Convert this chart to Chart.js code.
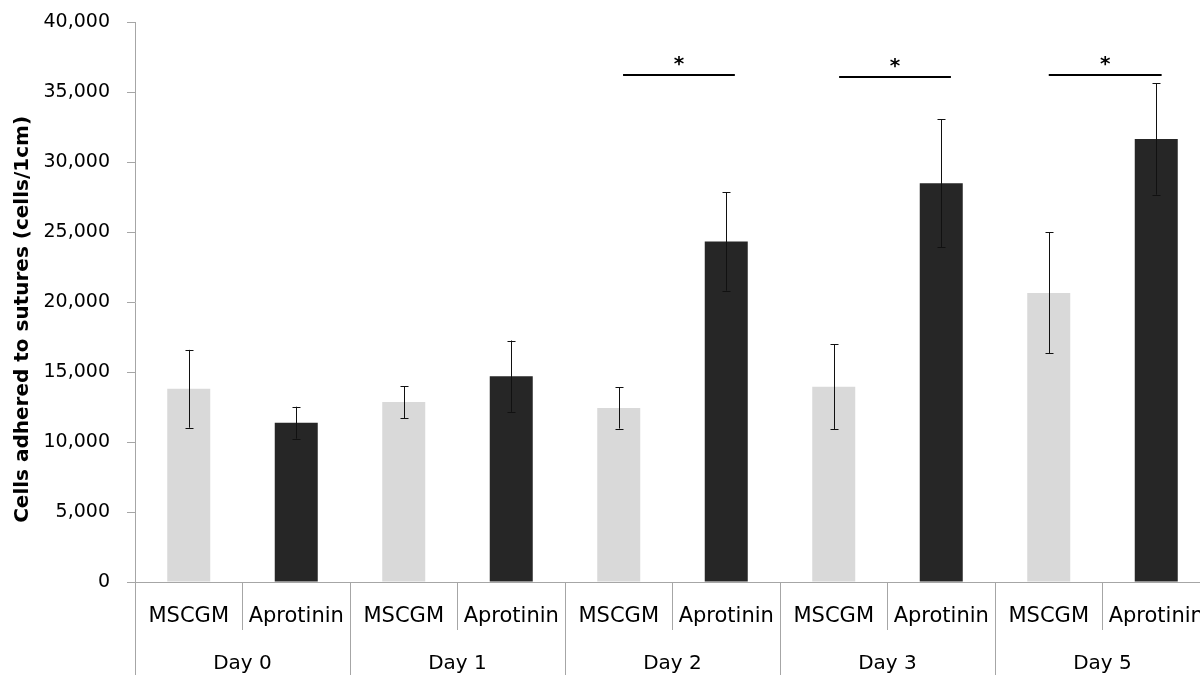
<!DOCTYPE html>
<html>
<head>
<meta charset="utf-8">
<script src="https://cdn.jsdelivr.net/npm/chart.js@4/dist/chart.umd.min.js"></script>
<style>
  html, body { margin: 0; padding: 0; background: #fff; overflow: hidden; }
  #wrap { width: 1210px; height: 675px; position: relative; }
</style>
</head>
<body>
<div id="wrap"><canvas id="c"></canvas></div>
<script>
// ---- data ----
const days = ['Day 0', 'Day 1', 'Day 2', 'Day 3', 'Day 5'];
const groups = ['MSCGM', 'Aprotinin'];
const mscgmValues = [13800, 12850, 12430, 13950, 20650];
const mscgmErrors = [2780, 1150, 1470, 3020, 4320];
const aprotininValues = [11380, 14700, 24330, 28480, 31650];
const aprotininErrors = [1140, 2550, 3520, 4570, 3980];
const yTicks = [0, 5000, 10000, 15000, 20000, 25000, 30000, 35000, 40000];
// significance bars: start/end in category units, level in cells
const sigStart = [4.04, 6.05, 8.0];
const sigEnd = [5.08, 7.09, 9.05];
const sigLevel = [36250, 36100, 36250];
const sigMark = ['*', '*', '*'];
const yTitle = 'Cells adhered to sutures (cells/1cm)';

// build interleaved category table from the arrays
const labels = [];
const values = [];
const errors = [];
const colors = [];
days.forEach((d, i) => {
  labels.push(groups[0]); values.push(mscgmValues[i]); errors.push(mscgmErrors[i]); colors.push('#d9d9d9');
  labels.push(groups[1]); values.push(aprotininValues[i]); errors.push(aprotininErrors[i]); colors.push('#262626');
});

const AXIS = '#a6a6a6';
const FONT = 'DejaVu Sans';

const overlay = {
  id: 'overlay',
  afterDatasetsDraw(chart) {
    const ctx = chart.ctx;
    const x = chart.scales.x, y = chart.scales.y;
    ctx.save();
    // error bars
    ctx.strokeStyle = '#111';
    ctx.lineWidth = 1;
    values.forEach((v, i) => {
      const px = Math.round(x.getPixelForValue(i)) + 0.5;
      const top = y.getPixelForValue(v + errors[i]);
      const bot = y.getPixelForValue(v - errors[i]);
      ctx.beginPath();
      ctx.moveTo(px, top); ctx.lineTo(px, bot);
      ctx.moveTo(px - 4, Math.round(top) + 0.5); ctx.lineTo(px + 4, Math.round(top) + 0.5);
      ctx.moveTo(px - 4, Math.round(bot) + 0.5); ctx.lineTo(px + 4, Math.round(bot) + 0.5);
      ctx.stroke();
    });
    // significance bars
    ctx.strokeStyle = '#000';
    ctx.lineWidth = 2;
    ctx.fillStyle = '#000';
    ctx.font = 'bold 20px "' + FONT + '"';
    ctx.textAlign = 'center';
    ctx.textBaseline = 'middle';
    sigStart.forEach((s, k) => {
      const x1 = x.getPixelForValue(s), x2 = x.getPixelForValue(sigEnd[k]);
      const py = Math.round(y.getPixelForValue(sigLevel[k]));
      ctx.beginPath();
      ctx.moveTo(x1, py); ctx.lineTo(x2, py);
      ctx.stroke();
      ctx.fillText(sigMark[k], (x1 + x2) / 2, py - 10);
    });
    ctx.restore();
  }
};

new Chart(document.getElementById('c'), {
  type: 'bar',
  data: {
    labels: labels,
    datasets: [{
      data: values,
      backgroundColor: colors,
      borderWidth: 0,
      barPercentage: 0.4,
      categoryPercentage: 1.0
    }]
  },
  options: {
    responsive: true,
    maintainAspectRatio: false,
    animation: false,
    events: [],
    layout: { padding: { top: 22, right: 0, bottom: 0, left: 0 } },
    plugins: { legend: { display: false }, tooltip: { enabled: false } },
    scales: {
      x: {
        type: 'category',
        position: 'bottom',
        weight: 0,
        offset: true,
        grid: { display: true, offset: true, drawOnChartArea: false, drawTicks: true, tickLength: 48, color: AXIS, lineWidth: 1 },
        border: { display: true, color: AXIS, width: 1 },
        ticks: { color: '#000', font: { family: FONT, size: 21 }, padding: -26, maxRotation: 0, autoSkip: false },
        afterFit(scale) { scale.height = 48; }
      },
      x2: {
        type: 'category',
        position: 'bottom',
        weight: 1,
        labels: days,
        offset: true,
        grid: { display: true, offset: true, drawOnChartArea: false, drawTicks: true, tickLength: 45, color: AXIS, lineWidth: 1 },
        border: { display: false },
        ticks: { color: '#000', font: { family: FONT, size: 20 }, padding: -23, maxRotation: 0, autoSkip: false },
        afterFit(scale) { scale.height = 45; }
      },
      y: {
        min: 0,
        max: 40000,
        afterBuildTicks(scale) { scale.ticks = yTicks.map(v => ({ value: v })); },
        grid: { display: true, drawOnChartArea: false, drawTicks: true, tickLength: 8, color: AXIS },
        border: { display: true, color: AXIS, width: 1 },
        ticks: {
          color: '#000',
          font: { family: FONT, size: 19 },
          padding: 17,
          callback: v => Number(v).toLocaleString('en-US')
        },
        title: {
          display: true,
          text: yTitle + '     ',
          color: '#000',
          font: { family: FONT, size: 20, weight: 'bold' },
          padding: { top: 11, bottom: 0 }
        },
        afterFit(scale) { scale.width = 135; scale.paddingTop = 0; scale.paddingBottom = 0; }
      }
    }
  },
  plugins: [overlay]
});
</script>
</body>
</html>
